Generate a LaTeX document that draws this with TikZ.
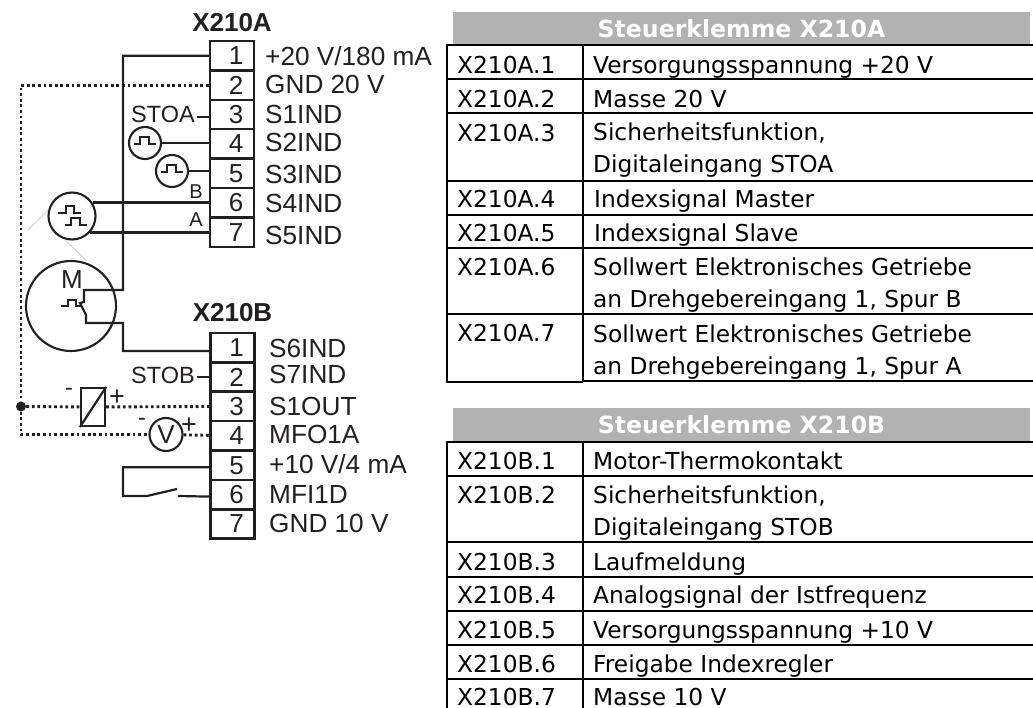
\documentclass[tikz,border=0pt]{standalone}
\usepackage{fontspec}
\setmainfont{Liberation Sans}
\newfontfamily\tabfont{DejaVu Sans}
\definecolor{myink}{RGB}{35,31,32}
\definecolor{mygray}{RGB}{178,178,178}
\definecolor{mylight}{RGB}{205,205,205}
\usetikzlibrary{positioning}

\begin{document}
\begin{tikzpicture}[x=1pt,y=-1pt,
    klemme/.style={draw=myink,line width=2.4pt,minimum width=44pt,minimum height=29.3pt,inner sep=0pt,
      text=myink,font=\fontsize{26}{26}\selectfont,execute at begin node=\hspace*{8pt}},
    pinlabel/.style={anchor=base west,inner sep=0pt,text=myink,font=\fontsize{26.2}{27}\selectfont},
    title/.style={inner sep=0pt,text=myink,font=\bfseries\fontsize{26}{27}\selectfont},
    small/.style={inner sep=0pt,text=myink,font=\fontsize{23.5}{24}\selectfont},
    tiny/.style={inner sep=0pt,text=myink,font=\fontsize{20}{20}\selectfont},
    pulsecirc/.style={draw=myink,circle,line width=2.1pt,inner sep=0pt},
    wire/.style={draw=myink,line width=2.2pt},
    fatwire/.style={draw=myink,line width=2.9pt},
    dotwire/.style={draw=myink,line width=2.9pt,dash pattern=on 2.8pt off 2.8pt},
    tabline/.style={draw=black,line width=2.3pt},
    tabtext/.style={anchor=base west,inner sep=0pt,text=black,
      font=\tabfont\fontsize{23.3}{32}\selectfont},
    tabtwo/.style={tabtext,align=left},
    tabhead/.style={fill=mygray,text=white,inner sep=0pt,minimum width=577pt,minimum height=33pt,
      font=\tabfont\bfseries\fontsize{23.6}{24}\selectfont},
    pulsegl/.pic={\draw[wire] (-11,1) -- (-5,1) -- (-5,-6) -- (4,-6) -- (4,1) -- (11,1);},
    node distance=29.4pt
    ]
    \useasboundingbox (0,0) rectangle (1033,708);

    % terminal block A
    \node (a1) [klemme] at (232,55.7) {1};
    \node (a2) [klemme,below of=a1] {2};
    \node (a3) [klemme,below of=a2] {3};
    \node (a4) [klemme,below of=a3] {4};
    \node (a5) [klemme,below of=a4] {5};
    \node (a6) [klemme,below of=a5] {6};
    \node (a7) [klemme,below of=a6] {7};
    \node (titlea) [title,above=8pt of a1] {X210A};

    % terminal block B
    \node (b1) [klemme] at (232.5,347.6) {1};
    \node (b2) [klemme,below of=b1] {2};
    \node (b3) [klemme,below of=b2] {3};
    \node (b4) [klemme,below of=b3] {4};
    \node (b5) [klemme,below of=b4] {5};
    \node (b6) [klemme,below of=b5] {6};
    \node (b7) [klemme,below of=b6] {7};
    \node (titleb) [title,above=10pt of b1] {X210B};

    % pin names
    \node (la1) [pinlabel] at (265,66) {+20 V/180 mA};
    \node (la2) [pinlabel] at (265,94) {GND 20 V};
    \node (la3) [pinlabel] at (265,123.5) {S1IND};
    \node (la4) [pinlabel] at (265,151.5) {S2IND};
    \node (la5) [pinlabel] at (265,184) {S3IND};
    \node (la6) [pinlabel] at (265,212.5) {S4IND};
    \node (la7) [pinlabel] at (265,245) {S5IND};
    \node (lb1) [pinlabel] at (269,358) {S6IND};
    \node (lb2) [pinlabel] at (269,384) {S7IND};
    \node (lb3) [pinlabel] at (269,415) {S1OUT};
    \node (lb4) [pinlabel] at (269,443) {MFO1A};
    \node (lb5) [pinlabel] at (269,473) {+10 V/4 mA};
    \node (lb6) [pinlabel] at (269,503) {MFI1D};
    \node (lb7) [pinlabel] at (269,532) {GND 10 V};

    % signal side
    \node (stoa) [small,anchor=base east] at (195,123) {STOA};
    \node (stob) [small,anchor=base east] at (195,384) {STOB};
    \node (spurb) [tiny] at (196,192) {B};
    \node (spura) [tiny] at (196,220) {A};
    \node (puls4) [pulsecirc,minimum size=32pt] at (145,143) {};
    \node (puls5) [pulsecirc,minimum size=32pt] at (172,171) {};
    \node (geber) [pulsecirc,minimum size=47pt] at (72,216) {};
    \node (motor) [pulsecirc,minimum size=90pt] at (71,306) {};
    \node (mlabel) [inner sep=0pt,text=myink,font=\fontsize{26}{26}\selectfont] at (72,280) {M};
    \pic at (puls4) {pulsegl};
    \pic at (puls5) {pulsegl};
    \draw[wire] (58,213) -- (66,213) -- (66,206) -- (74,206) -- (74,213) -- (81,213);
    \draw[wire] (65,225) -- (71,225) -- (71,218) -- (80,218) -- (80,225) -- (87,225);
    \draw[wire] (61,306) -- (68,306) -- (68,300) -- (76,300) -- (76,306) -- (81,306);
    \draw[draw=mylight,line width=0.8pt] (28,230) -- (48,210);
    \draw[draw=mylight,line width=0.8pt] (65,240) -- (87,261);

    \coordinate (mup) at (123,290);
    \coordinate (mtop) at (84,290);
    \coordinate (mkink) at (84,302);
    \coordinate (mbend) at (80,303);
    \coordinate (mlow) at (86,315);
    \coordinate (mbot) at (86,323);
    \coordinate (mdown) at (123,323);
    \coordinate (stoatick) at (197,117);
    \coordinate (stobtick) at (197,377);

    % solid wires
    \draw[wire] (a1.west) -| (mup) -- (mtop) -- (mkink) -- (mbend) -- (mlow) -- (mbot) -- (mdown)
      |- ([yshift=-3.5pt]b1.west);
    \draw[wire] (stoatick) -- (stoatick -| a3.west);
    \draw[wire] (stobtick) -- (stobtick -| b2.west);
    \draw[wire] (puls4) -- (puls4 -| a4.west);
    \draw[wire] (puls5) -- (puls5 -| a5.west);
    \draw[fatwire] (geber.33) -- (geber.33 -| a6.west);
    \draw[fatwire] (geber.-43) -- (geber.-43 -| a7.west);

    % switch
    \coordinate (sw1) at (123,496);
    \coordinate (sw2) at (147,496);
    \coordinate (sw3) at (177,489);
    \coordinate (sw4) at (178,496);
    \draw[wire] ([yshift=-2pt]b5.west) -| (sw1) -- (sw2) -- (sw3);
    \draw[wire] (sw4) -- ([yshift=-2pt]b6.west);

    % dotted return
    \node (relay) [draw=myink,line width=2.2pt,minimum width=24pt,minimum height=38pt,inner sep=0pt] at (93,407) {};
    \node (volt) [pulsecirc,minimum size=33pt,text=myink,font=\fontsize{26}{26}\selectfont] at (166,434.5) {V};
    \node (jn) [fill=myink,circle,minimum size=10pt,inner sep=0pt] at (21,406.5) {};
    \node (rminus) [small] at (69,392) {-};
    \node (rplus) [inner sep=0pt,text=myink,font=\fontsize{27}{27}\selectfont] at (117,398) {+};
    \node (vminus) [small] at (142,422) {-};
    \node (vplus) [inner sep=0pt,text=myink,font=\fontsize{27}{27}\selectfont] at (189,426) {+};
    \draw[draw=myink,line width=2.2pt] (relay.south west) -- (relay.north east);
    \draw[dotwire] (a2.west) -| (jn);
    \draw[dotwire] (jn) |- (volt.west);
    \draw[dotwire] (jn) -- (relay);
    \draw[dotwire] (relay) -- (b3);
    \draw[dotwire] (volt) -- (b4);

    % table A
    \node (heada) [tabhead] at (741.5,28.5) {Steuerklemme X210A};
    \draw[tabline] (447,45) -- (1033,45);
    \draw[tabline] (447,79) -- (1033,79);
    \draw[tabline] (447,113) -- (1033,113);
    \draw[tabline] (447,181) -- (1033,181);
    \draw[tabline] (447,215) -- (1033,215);
    \draw[tabline] (447,248) -- (1033,248);
    \draw[tabline] (447,314) -- (1033,314);
    \draw[tabline] (446,382) -- (583,382) (583,381) -- (1033,381);
    \draw[tabline] (447,44) -- (447,382);
    \draw[tabline] (583,44) -- (583,382);
    \node (ta1) [tabtext] at (457,74) {X210A.1};
    \node (ta2) [tabtext] at (457,107.5) {X210A.2};
    \node (ta3) [tabtext] at (457,141.5) {X210A.3};
    \node (ta4) [tabtext] at (457,207.5) {X210A.4};
    \node (ta5) [tabtext] at (457,241.5) {X210A.5};
    \node (ta6) [tabtext] at (457,276) {X210A.6};
    \node (ta7) [tabtext] at (457,342) {X210A.7};
    \node (da1) [tabtext] at (593,74) {Versorgungsspannung +20 V};
    \node (da2) [tabtext] at (593,107.5) {Masse 20 V};
    \node (da3) [tabtwo] at (593,173) {Sicherheitsfunktion,\\Digitaleingang STOA};
    \node (da4) [tabtext] at (594,207.5) {Indexsignal Master};
    \node (da5) [tabtext] at (594,241.5) {Indexsignal Slave};
    \node (da6) [tabtwo] at (593,308) {Sollwert Elektronisches Getriebe\\an Drehgebereingang 1, Spur B};
    \node (da7) [tabtwo] at (593,374) {Sollwert Elektronisches Getriebe\\an Drehgebereingang 1, Spur A};

    % table B
    \node (headb) [tabhead] at (741.5,424.5) {Steuerklemme X210B};
    \draw[tabline] (447,442) -- (1033,442);
    \draw[tabline] (447,476) -- (1033,476);
    \draw[tabline] (447,542) -- (1033,542);
    \draw[tabline] (447,577) -- (1033,577);
    \draw[tabline] (447,611) -- (1033,611);
    \draw[tabline] (447,645) -- (1033,645);
    \draw[tabline] (447,679) -- (1033,679);
    \draw[tabline] (447,441) -- (447,708);
    \draw[tabline] (583,441) -- (583,708);
    \node (tb1) [tabtext] at (457,469) {X210B.1};
    \node (tb2) [tabtext] at (457,503) {X210B.2};
    \node (tb3) [tabtext] at (457,570) {X210B.3};
    \node (tb4) [tabtext] at (457,603) {X210B.4};
    \node (tb5) [tabtext] at (457,638) {X210B.5};
    \node (tb6) [tabtext] at (457,672) {X210B.6};
    \node (tb7) [tabtext] at (457,705) {X210B.7};
    \node (db1) [tabtext] at (593,469) {Motor-Thermokontakt};
    \node (db2) [tabtwo] at (593,535) {Sicherheitsfunktion,\\Digitaleingang STOB};
    \node (db3) [tabtext] at (593,570) {Laufmeldung};
    \node (db4) [tabtext] at (593,603) {Analogsignal der Istfrequenz};
    \node (db5) [tabtext] at (593,638) {Versorgungsspannung +10 V};
    \node (db6) [tabtext] at (593,672) {Freigabe Indexregler};
    \node (db7) [tabtext] at (593,705) {Masse 10 V};
\end{tikzpicture}
\end{document}
